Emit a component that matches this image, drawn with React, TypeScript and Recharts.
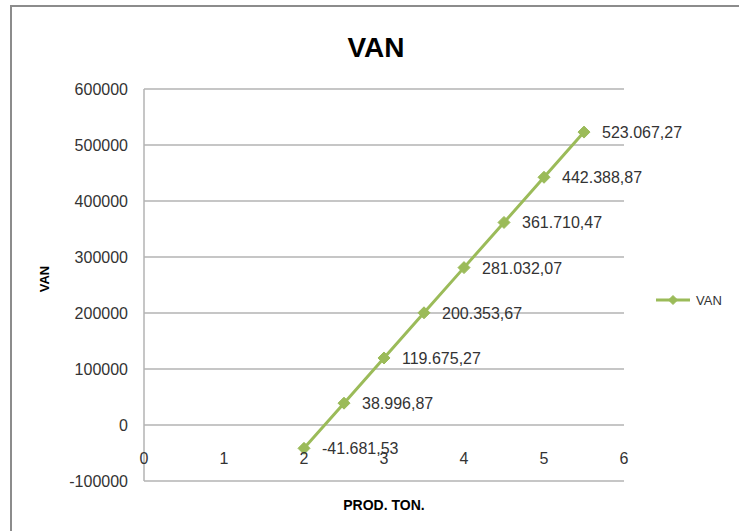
import React from 'react';
import {
  LineChart,
  Line,
  XAxis,
  YAxis,
  CartesianGrid,
  Legend,
  LabelList
} from 'recharts';

const prodTon = [2, 2.5, 3, 3.5, 4, 4.5, 5, 5.5];
const vanValues = [-41681.53, 38996.87, 119675.27, 200353.67, 281032.07, 361710.47, 442388.87, 523067.27];
const xTicks = [0, 1, 2, 3, 4, 5, 6];
const yTicks = [-100000, 0, 100000, 200000, 300000, 400000, 500000, 600000];

const data = prodTon.map((p, i) => ({ prod: p, van: vanValues[i] }));

const GREEN = '#9bbb59';
const GRID = '#b3b3b3';
const FONT = '"Liberation Sans", Arial, sans-serif';

// 523067.27 -> "523.067,27"
const fmt = (v: number) => {
  const neg = v < 0;
  const [int, dec] = Math.abs(v).toFixed(2).split('.');
  const grouped = int.replace(/\B(?=(\d{3})+(?!\d))/g, '.');
  return (neg ? '-' : '') + grouped + ',' + dec;
};

const Diamond = ({ cx, cy, size = 6 }: any) => {
  if (cx == null || cy == null) return null;
  const r = size;
  return (
    <polygon
      points={`${cx},${cy - r} ${cx + r},${cy} ${cx},${cy + r} ${cx - r},${cy}`}
      fill={GREEN}
      stroke={GREEN}
    />
  );
};

const DataLabel = ({ x, y, value }: any) => (
  <text x={x + 18} y={y + 6} fontSize={16} fontFamily={FONT} fill="#333">
    {fmt(value)}
  </text>
);

const XTick = ({ x, y, payload }: any) => (
  <text x={x} y={y - 17} textAnchor="middle" fontSize={16} fontFamily={FONT} fill="#333">
    {payload.value}
  </text>
);

const LegendContent = () => (
  <svg width={90} height={20}>
    <line x1={0} y1={10} x2={34} y2={10} stroke={GREEN} strokeWidth={3} />
    <Diamond cx={17} cy={10} size={4.5} />
    <text x={40} y={15} fontSize={13} fontFamily={FONT} fill="#333">VAN</text>
  </svg>
);

export default function App() {
  return (
    <div
      style={{
        position: 'absolute',
        left: 10,
        top: 5,
        width: 729,
        height: 526,
        borderTop: '2px solid #8c8c8c',
        borderLeft: '2px solid #8c8c8c',
        overflow: 'hidden',
        background: '#fff'
      }}
    >
      <LineChart
        width={727}
        height={524}
        data={data}
        margin={{ top: 82, right: 115, bottom: 10, left: 0 }}
      >
        <text x={364} y={50} textAnchor="middle" fontSize={28} fontWeight="bold" fontFamily={FONT} fill="#000">
          VAN
        </text>
        <CartesianGrid vertical={false} stroke={GRID} strokeWidth={1.5} />
        <XAxis
          dataKey="prod"
          type="number"
          domain={[0, 6]}
          ticks={xTicks}
          axisLine={false}
          tickLine={false}
          tickSize={0}
          tickMargin={0}
          height={40}
          tick={<XTick />}
          label={{
            content: ({ viewBox }: any) => (
              <text
                x={viewBox.x + viewBox.width / 2}
                y={viewBox.y + 29}
                textAnchor="middle"
                fontSize={14}
                fontWeight="bold"
                fontFamily={FONT}
                fill="#000"
              >
                PROD. TON.
              </text>
            )
          }}
        />
        <YAxis
          type="number"
          domain={[-100000, 600000]}
          ticks={yTicks}
          width={132}
          axisLine={{ stroke: GRID, strokeWidth: 1.5 }}
          tickLine={false}
          tickSize={0}
          tickMargin={16}
          tick={{ fontSize: 16, fontFamily: FONT, fill: '#333' }}
          label={{
            content: ({ viewBox }: any) => {
              const cx = 32;
              const cy = viewBox.y + viewBox.height / 2 - 6;
              return (
                <text
                  x={cx}
                  y={cy}
                  transform={`rotate(-90 ${cx} ${cy})`}
                  textAnchor="middle"
                  dominantBaseline="central"
                  fontSize={13}
                  fontWeight="bold"
                  fontFamily={FONT}
                  fill="#000"
                >
                  VAN
                </text>
              );
            }
          }}
        />
        <Legend
          layout="horizontal"
          align="center"
          verticalAlign="middle"
          content={<LegendContent />}
          wrapperStyle={{ left: 644, top: 283, width: 90 }}
        />
        <Line
          type="linear"
          dataKey="van"
          name="VAN"
          stroke={GREEN}
          strokeWidth={3}
          dot={(props: any) => <Diamond key={props.index} cx={props.cx} cy={props.cy} size={6} />}
          activeDot={false}
          isAnimationActive={false}
        >
          <LabelList dataKey="van" content={<DataLabel />} />
        </Line>
      </LineChart>
    </div>
  );
}
